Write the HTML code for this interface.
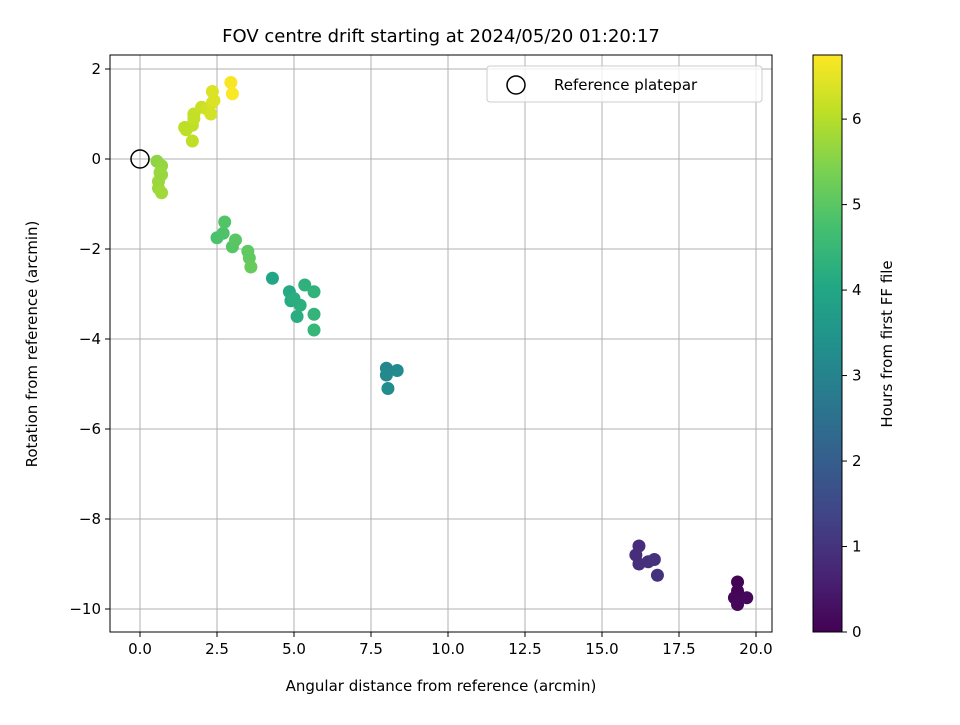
<!DOCTYPE html>
<html><head><meta charset="utf-8"><style>
body{margin:0;background:#fff;font-family:"Liberation Sans","DejaVu Sans",sans-serif}
</style></head><body>
<svg id="c" width="960" height="720" xmlns="http://www.w3.org/2000/svg" font-family="DejaVu Sans, Liberation Sans, sans-serif"></svg>
<script>
const xs=[19.4,19.4,19.3,19.5,19.4,19.7, 16.2,16.1,16.2,16.5,16.7,16.8, 8.0,8.0,8.35,8.05, 4.3,4.85,4.9,5.1,5.2,5.35,5.65,5.65,5.65,5.0, 2.5,2.7,2.75,3.0,3.1,3.5,3.55,3.6, 0.55,0.7,0.7,0.6,0.6,0.7,0.65, 1.45,1.5,1.7,1.75,1.75,1.7,2.0,2.2,2.3,2.35,2.4,2.35, 2.95,3.0];
const ys=[-9.4,-9.6,-9.75,-9.75,-9.9,-9.75, -8.6,-8.8,-9.0,-8.95,-8.9,-9.25, -4.65,-4.8,-4.7,-5.1, -2.65,-2.95,-3.15,-3.5,-3.25,-2.8,-2.95,-3.45,-3.8,-3.1, -1.75,-1.65,-1.4,-1.95,-1.8,-2.05,-2.2,-2.4, -0.05,-0.15,-0.35,-0.5,-0.65,-0.75,-0.3, 0.7,0.65,0.75,0.9,1.0,0.4,1.15,1.1,1.0,1.25,1.3,1.5, 1.7,1.45];
const hours=[0.05,0.07,0.09,0.1,0.12,0.14, 0.85,0.88,0.9,0.93,0.95,0.98, 3.1,3.15,3.2,3.25, 4.0,4.1,4.15,4.2,4.25,4.3,4.35,4.4,4.45,4.2, 4.8,4.85,4.9,4.95,5.0,5.05,5.1,5.15, 5.6,5.65,5.7,5.72,5.75,5.78,5.7, 6.05,6.08,6.1,6.12,6.15,6.1,6.2,6.25,6.3,6.35,6.38,6.4, 6.7,6.72];
const xTicks=[0,2.5,5,7.5,10,12.5,15,17.5,20];
const yTicks=[2,0,-2,-4,-6,-8,-10];
const cTicks=[0,1,2,3,4,5,6];
const HMAX=6.75;
const L=110,R=772,T=55,B=632;
const X=v=>140+v*30.8, Y=v=>159-v*45, CY=v=>632-v/HMAX*577;
const stops=[[0,[68,1,84]],[.1,[72,36,117]],[.2,[65,68,135]],[.3,[53,95,141]],[.4,[42,120,142]],[.5,[33,145,140]],[.6,[34,168,132]],[.7,[68,191,112]],[.8,[122,209,81]],[.9,[189,223,38]],[1,[253,231,37]]];
function vir(t){t=Math.max(0,Math.min(1,t));for(let i=1;i<stops.length;i++){if(t<=stops[i][0]){const a=stops[i-1],b=stops[i],f=(t-a[0])/(b[0]-a[0]);return 'rgb('+a[1].map((c,k)=>Math.round(c+(b[1][k]-c)*f)).join(',')+')';}}}
const svg=document.getElementById('c');const NS='http://www.w3.org/2000/svg';
function el(t,a,p){const e=document.createElementNS(NS,t);for(const k in a)e.setAttribute(k,a[k]);(p||svg).appendChild(e);return e;}
function txt(s,a){const e=el('text',a);e.textContent=s;return e;}
xTicks.forEach(v=>{const g=el('line',{x1:X(v),x2:X(v),y1:T,y2:B,stroke:'#b0b0b0','stroke-width':1});


el('line',{x1:X(v),x2:X(v),y1:B,y2:B+5,stroke:'#000'});
const t=txt(v.toFixed(1),{x:X(v),y:B+22,'text-anchor':'middle','font-size':15});

});
yTicks.forEach(v=>{const g=el('line',{x1:L,x2:R,y1:Y(v),y2:Y(v),stroke:'#b0b0b0','stroke-width':1});


el('line',{x1:L-5,x2:L,y1:Y(v),y2:Y(v),stroke:'#000'});
const t=txt(v<0?'\u2212'+(-v):String(v),{x:L-9,y:Y(v)+5,'text-anchor':'end','font-size':15});

});
xs.forEach((v,i)=>{const c=el('circle',{cx:X(v),cy:Y(ys[i]),r:6.5,fill:vir(hours[i]/HMAX)});

});
const ref=el('circle',{cx:X(0),cy:Y(0),r:9,fill:'none',stroke:'#000','stroke-width':1.5});


const fr=el('rect',{x:L,y:T,width:R-L,height:B-T,fill:'none',stroke:'#000','stroke-width':1});


const defs=el('defs',{});const lg=el('linearGradient',{id:'vg',x1:0,y1:1,x2:0,y2:0},defs);
stops.forEach(s=>el('stop',{offset:s[0],'stop-color':'rgb('+s[1].join(',')+')'},lg));
const cb=el('rect',{x:813,y:55,width:29,height:577,fill:'url(#vg)',stroke:'#000','stroke-width':1});


cTicks.forEach(v=>{el('line',{x1:842,x2:847,y1:CY(v),y2:CY(v),stroke:'#000'});
const t=txt(String(v),{x:852,y:CY(v)+5,'font-size':15});

});
</script>
<svg width="960" height="720" style="position:absolute;left:0;top:0" font-family="DejaVu Sans, Liberation Sans, sans-serif">
<text x="441" y="42" text-anchor="middle" font-size="18">FOV centre drift starting at 2024/05/20 01:20:17</text>
<text x="441" y="691" text-anchor="middle" font-size="15">Angular distance from reference (arcmin)</text>
<text transform="translate(37,344) rotate(-90)" text-anchor="middle" font-size="15">Rotation from reference (arcmin)</text>
<text transform="translate(892,344) rotate(-90)" text-anchor="middle" font-size="15">Hours from first FF file</text>
<g>
<rect x="487" y="66" width="275" height="36" rx="3" fill="#fff" fill-opacity="0.8" stroke="#ccc"/>
<circle cx="516" cy="85" r="9" fill="none" stroke="#000" stroke-width="1.5"/>
<text x="554" y="90" font-size="15">Reference platepar</text>
</g>
</svg>
</body></html>
